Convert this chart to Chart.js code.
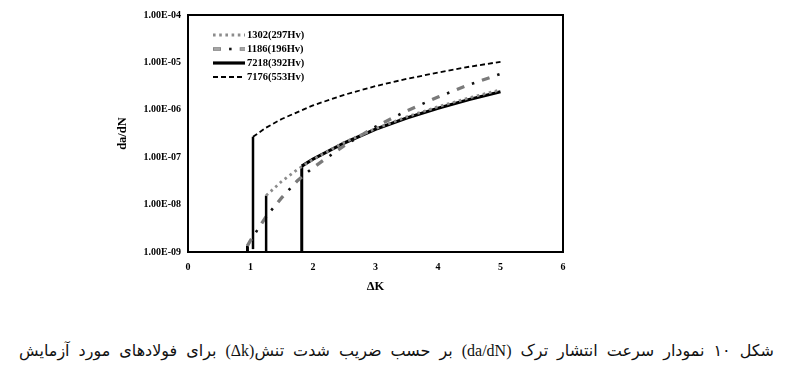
<!DOCTYPE html>
<html>
<head>
<meta charset="utf-8">
<script src="https://cdn.jsdelivr.net/npm/chart.js@4/dist/chart.umd.min.js"></script>
<style>
  html, body { margin: 0; padding: 0; background: #fff; width: 786px; height: 376px; overflow: hidden; }
  #wrap { position: absolute; left: 0; top: 0; width: 786px; height: 300px; }
  #caption { position: absolute; top: 341px; right: 12px; font: 16px 'Liberation Serif', 'DejaVu Sans', serif; word-spacing: 5px; direction: rtl; white-space: nowrap; color: #111; }
</style>
</head>
<body>
<div id="wrap"><canvas id="c" width="786" height="300"></canvas></div>
<div id="caption" dir="rtl">شکل ۱۰ نمودار سرعت انتشار ترک (da/dN) بر حسب ضریب شدت تنش(Δk) برای فولادهای مورد آزمایش</div>
<script>
// ---- data ----
const seriesLabels = ['1302(297Hv)', '1186(196Hv)', '7218(392Hv)', '7176(553Hv)'];

const deltaK_1302 = [1.25, 1.25, 1.5, 1.75, 2, 2.5, 3, 3.5, 4, 4.5, 5];
const dadN_1302   = [1e-9, 1.55e-8, 3.1e-8, 5.5e-8, 9.0e-8, 2.05e-7, 4.0e-7, 7.1e-7, 1.16e-6, 1.79e-6, 2.64e-6];

const deltaK_1186 = [0.95, 0.95, 1.0, 1.25, 1.5, 1.75, 2, 2.5, 3, 3.5, 4, 4.5, 5];
const dadN_1186   = [1e-9, 1.35e-9, 1.75e-9, 5.6e-9, 1.4e-8, 3.2e-8, 6.0e-8, 1.75e-7, 4.4e-7, 9.5e-7, 1.86e-6, 3.4e-6, 5.7e-6];

const deltaK_7218 = [1.82, 1.82, 2, 2.5, 3, 3.5, 4, 4.5, 5];
const dadN_7218   = [1e-9, 6.5e-8, 9.1e-8, 2.0e-7, 3.9e-7, 6.7e-7, 1.08e-6, 1.65e-6, 2.4e-6];

const deltaK_7176 = [1.04, 1.04, 1.25, 1.5, 2, 2.5, 3, 3.5, 4, 4.5, 5];
const dadN_7176   = [1.15e-9, 2.7e-7, 4.2e-7, 6.4e-7, 1.24e-6, 2.07e-6, 3.16e-6, 4.5e-6, 6.1e-6, 8.1e-6, 1.03e-5];

const yTickValues = [1e-9, 1e-8, 1e-7, 1e-6, 1e-5, 1e-4];
const yTickLabels = ['1.00E-09', '1.00E-08', '1.00E-07', '1.00E-06', '1.00E-05', '1.00E-04'];
const xTickValues = [0, 1, 2, 3, 4, 5, 6];

// ---- helpers ----
const pts = (xs, ys) => xs.map((x, i) => ({ x: x, y: ys[i] }));
const isVert = c => c.p0.parsed.x === c.p1.parsed.x;
const vertSeg = (w) => ({
  borderColor: c => isVert(c) ? '#000' : undefined,
  borderDash: c => isVert(c) ? [] : undefined,
  borderDashOffset: c => isVert(c) ? 0 : undefined,
  borderWidth: c => isVert(c) ? w : undefined
});

const datasets = [
  { label: seriesLabels[0], data: pts(deltaK_1302, dadN_1302), borderColor: '#8c8c8c', borderWidth: 2.8, borderDash: [2.6, 3.6], legend: 0, segment: vertSeg(2.5) },
  { label: seriesLabels[1], data: pts(deltaK_1186, dadN_1186), borderColor: '#7a7a7a', borderWidth: 3.3, borderDash: [8, 18.7], legend: 1, segment: vertSeg(2.5) },
  { label: seriesLabels[1] + '_fill', data: pts(deltaK_1186, dadN_1186), borderColor: '#b4b4b4', borderWidth: 1.5, borderDash: [6.6, 20.1], borderDashOffset: -0.7, legend: 1, segment: vertSeg(2.5) },
  { label: seriesLabels[1] + '_dot', data: pts(deltaK_1186, dadN_1186), borderColor: '#111', borderWidth: 2.6, borderDash: [2.5, 24.2], borderDashOffset: -16.1, legend: 1, segment: vertSeg(2.5) },
  { label: seriesLabels[2], data: pts(deltaK_7218, dadN_7218), borderColor: '#000', borderWidth: 3.2, borderDash: [], legend: 2, segment: vertSeg(3) },
  { label: seriesLabels[3], data: pts(deltaK_7176, dadN_7176), borderColor: '#000', borderWidth: 1.8, borderDash: [5, 3], legend: 3, segment: vertSeg(2.5) }
];
datasets.forEach(d => { d.pointRadius = 0; d.fill = false; d.tension = 0; d.borderCapStyle = 'butt'; });

const framePlugin = {
  id: 'frame',
  afterDatasetsDraw(chart) {
    const { ctx, chartArea: a } = chart;
    ctx.save();
    ctx.strokeStyle = '#000';
    ctx.lineWidth = 2;
    ctx.strokeRect(a.left, a.top, a.right - a.left, a.bottom - a.top);
    ctx.restore();
  }
};

const legendPlugin = {
  id: 'customLegend',
  afterDraw(chart) {
    const { ctx, chartArea: a } = chart;
    const x0 = a.left + 25, x1 = a.left + 57, tx = a.left + 59;
    ctx.save();
    seriesLabels.forEach((lab, i) => {
      const y = a.top + 20 + i * 14;
      chart.data.datasets.filter(d => d.legend === i).forEach(d => {
        ctx.beginPath();
        ctx.strokeStyle = d.borderColor;
        ctx.lineWidth = d.borderWidth;
        ctx.setLineDash(d.borderDash || []);
        ctx.lineDashOffset = d.borderDashOffset || 0;
        ctx.lineCap = 'butt';
        ctx.moveTo(x0, y);
        ctx.lineTo(x1, y);
        ctx.stroke();
      });
      ctx.setLineDash([]);
      ctx.fillStyle = '#000';
      ctx.font = 'bold 10.5px "Liberation Serif"';
      ctx.textBaseline = 'middle';
      ctx.textAlign = 'left';
      ctx.fillText(lab, tx, y);
    });
    ctx.restore();
  }
};

new Chart(document.getElementById('c'), {
  type: 'line',
  data: { datasets: datasets },
  plugins: [framePlugin, legendPlugin],
  options: {
    responsive: false,
    animation: false,
    events: [],
    layout: { padding: { left: 112, right: 223, top: 15, bottom: 0 } },
    plugins: { legend: { display: false }, tooltip: { enabled: false } },
    scales: {
      x: {
        type: 'linear', min: 0, max: 6,
        afterBuildTicks: s => { s.ticks = xTickValues.map(v => ({ value: v })); },
        afterFit: s => { s.height = 48; },
        grid: { display: false, drawTicks: false },
        border: { display: false },
        ticks: { color: '#000', font: { family: 'Liberation Serif', weight: 'bold', size: 10 }, padding: 9, autoSkip: false, maxRotation: 0 },
        title: { display: true, text: 'ΔK', color: '#000', font: { family: 'Liberation Serif', weight: 'bold', size: 12.5 }, padding: { top: 0, bottom: 6 } }
      },
      y: {
        type: 'logarithmic', min: 1e-9, max: 1e-4,
        afterBuildTicks: s => { s.ticks = yTickValues.map(v => ({ value: v })); },
        afterFit: s => { s.width = 76; },
        grid: { display: false, drawTicks: false },
        border: { display: false },
        ticks: {
          color: '#000', font: { family: 'Liberation Serif', weight: 'bold', size: 10 }, padding: 7, autoSkip: false,
          callback: (v) => { const i = yTickValues.findIndex(t => Math.abs(Math.log10(t) - Math.log10(v)) < 1e-6); return i >= 0 ? yTickLabels[i] : ''; }
        },
        title: { display: true, text: 'da/dN', color: '#000', font: { family: 'Liberation Serif', weight: 'bold', size: 12.5 }, padding: { top: 3, bottom: 0 } }
      }
    }
  }
});
</script>
</body>
</html>
